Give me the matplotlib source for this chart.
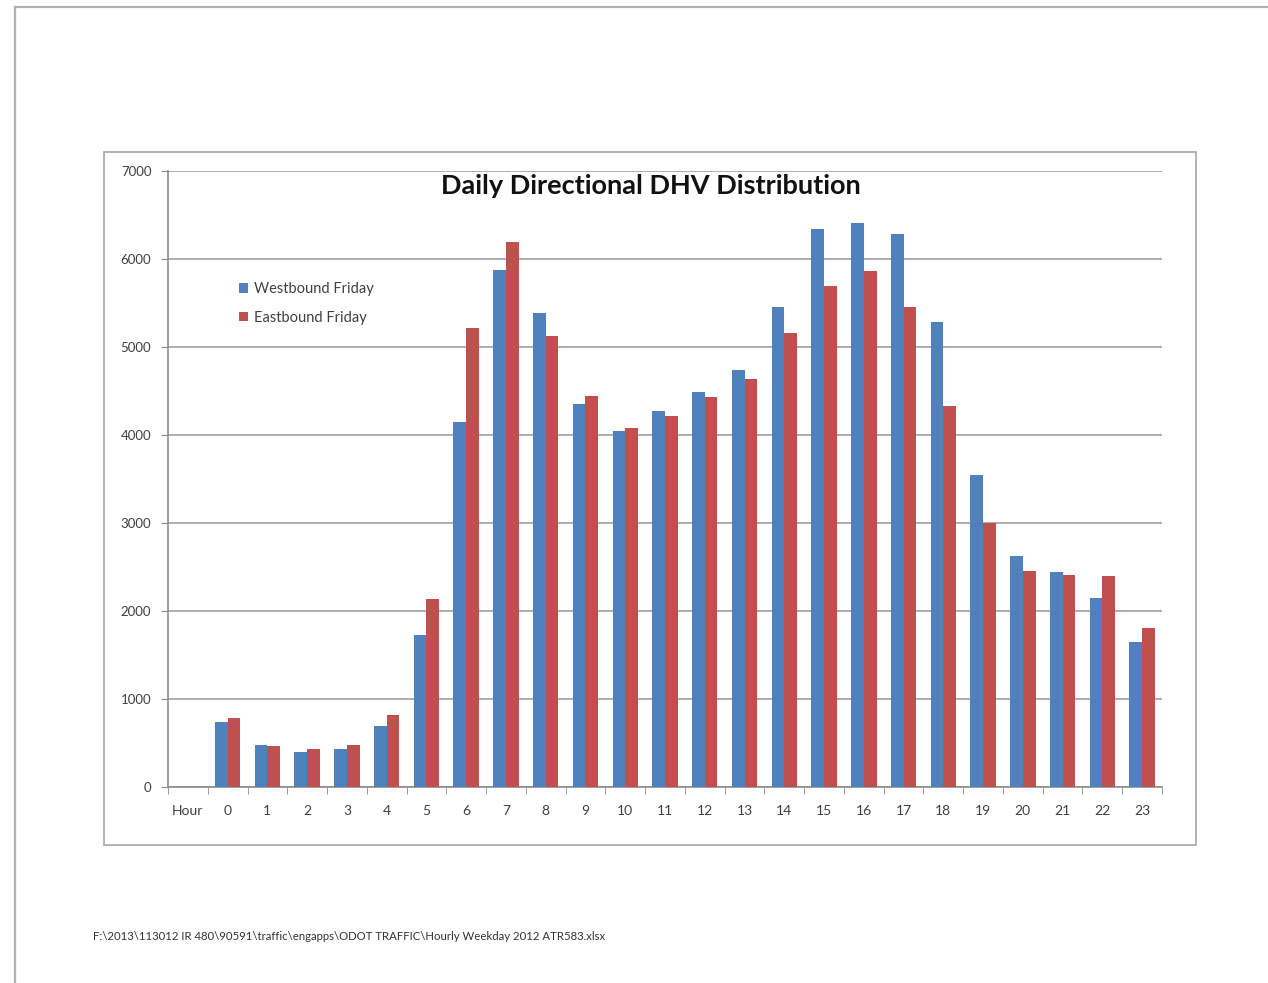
import matplotlib
matplotlib.use("Agg")
import matplotlib.pyplot as plt
from matplotlib.lines import Line2D
from matplotlib.patches import Rectangle
import numpy as np

plt.rcParams['font.family'] = ['Lato', 'DejaVu Sans']

hours = ["Hour"] + [str(h) for h in range(24)]
westbound = [739, 477, 398, 432, 693, 1727, 4148, 5875, 5386, 4352, 4045, 4273,
             4489, 4739, 5455, 6341, 6409, 6284, 5284, 3545, 2625, 2443, 2148, 1648]
eastbound = [784, 466, 432, 477, 818, 2136, 5216, 6193, 5125, 4443, 4080, 4216,
             4432, 4636, 5159, 5693, 5864, 5455, 4330, 3000, 2455, 2409, 2398, 1807]

W, H = 1268, 983
fig = plt.figure(figsize=(W / 100, H / 100), dpi=100)

def fx(px):
    return px / W

def fy(py):
    return 1 - py / H

# page edges
fig.add_artist(Line2D([fx(15), fx(15)], [fy(7), 0], color="#b0b0b0", lw=1.6))
fig.add_artist(Line2D([fx(15), 1], [fy(7), fy(7)], color="#b0b0b0", lw=1.6))

# chart frame
fig.add_artist(Rectangle((fx(104), fy(845)), fx(1196) - fx(104), fy(152) - fy(845),
                         fill=False, edgecolor="#a6a6a6", lw=1.2))

ax = fig.add_axes([fx(168), fy(787), fx(1162) - fx(168), fy(171) - fy(787)])

pos = np.arange(1, 25)
bw = 0.32
ax.bar(pos - bw / 2, westbound, bw, color="#4f81bd", label="Westbound Friday", zorder=3)
ax.bar(pos + bw / 2, eastbound, bw, color="#c0504d", label="Eastbound Friday", zorder=3)

ax.set_xlim(-0.5, 24.5)
ax.set_ylim(0, 7000)
ax.set_yticks(range(0, 7001, 1000))
ax.yaxis.grid(True, color="#a0a0a0", lw=1.2, zorder=0)
ax.set_xticks(range(25))
ax.set_xticklabels(hours)
ax.set_xticks(np.arange(-0.5, 25, 1), minor=True)
ax.tick_params(axis="x", which="major", length=0, pad=13, labelsize=10, labelcolor="#404040")
ax.tick_params(axis="x", which="minor", length=5, color="#8c8c8c", direction="out")
ax.tick_params(axis="y", length=5, color="#8c8c8c", labelsize=9.5, labelcolor="#404040", pad=7)
for s in ["top", "right"]:
    ax.spines[s].set_visible(False)
for s in ["left", "bottom"]:
    ax.spines[s].set_color("#8c8c8c")
    ax.spines[s].set_linewidth(1.2)

fig.text(fx(651), fy(186), "Daily Directional DHV Distribution", ha="center", va="center",
         fontsize=19.5, fontweight="bold", color="#111111")

ax.legend(loc="upper left", bbox_to_anchor=(fx(226), fy(269)), bbox_transform=fig.transFigure,
          frameon=False, fontsize=10.5, handlelength=0.6, handleheight=0.6, handletextpad=0.4,
          labelspacing=1.0, labelcolor="#404040")

fig.text(fx(93), fy(937), r"F:\2013\113012 IR 480\90591\traffic\engapps\ODOT TRAFFIC\Hourly Weekday 2012 ATR583.xlsx",
         ha="left", va="center", fontsize=8.2, color="#333333")

fig.savefig("out.png", dpi=100)
